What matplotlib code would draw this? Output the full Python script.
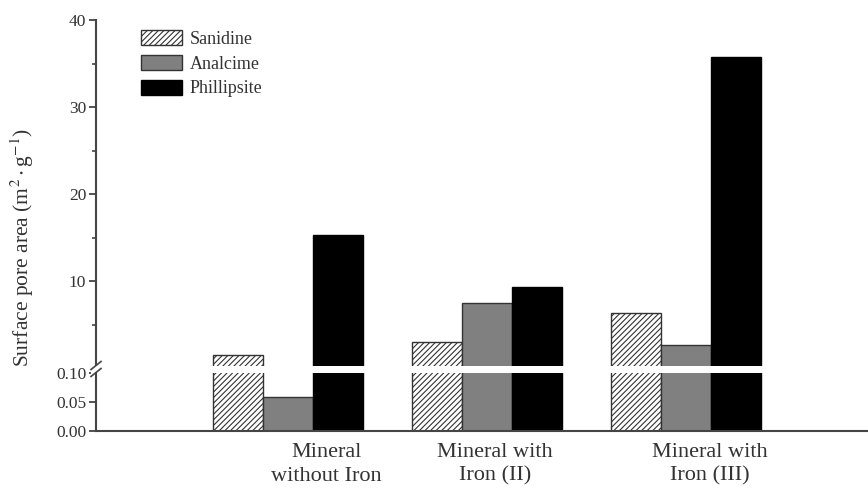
import numpy as np
import matplotlib
matplotlib.use('Agg')
import matplotlib.pyplot as plt
from matplotlib.lines import Line2D
from matplotlib.patches import Polygon
from matplotlib.ticker import MultipleLocator

# Surface pore area per mineral and iron treatment
groups = ['Mineral\nwithout Iron', 'Mineral with\nIron (II)', 'Mineral with\nIron (III)']
sanidine = [1.6, 3.05, 6.4]
analcime = [0.058, 7.55, 2.7]
phillipsite = [15.3, 9.35, 35.7]

plt.rcParams['font.family'] = ['Liberation Serif', 'DejaVu Serif']
plt.rcParams['mathtext.fontset'] = 'stix'
plt.rcParams['hatch.color'] = '#555555'
plt.rcParams['hatch.linewidth'] = 0.8

fig = plt.figure(figsize=(8.68, 4.93), dpi=100)
ax_top = fig.add_axes([0.1106, 0.2576, 0.8894, 0.7018])
ax_low = fig.add_axes([0.1106, 0.1258, 0.8894, 0.1176])

x = np.arange(len(groups)) * 4.0
w = 1.0
series = [
    ('Sanidine', sanidine, dict(facecolor='white', hatch='//////', edgecolor='#333333')),
    ('Analcime', analcime, dict(facecolor='#808080', edgecolor='#333333')),
    ('Phillipsite', phillipsite, dict(facecolor='black', edgecolor='black')),
]

for ax in (ax_top, ax_low):
    for i, (name, vals, style) in enumerate(series):
        ax.bar(x + (i - 1) * w, vals, width=w, linewidth=1.0, label=name, **style)
    ax.set_xlim(-3.86, 11.66)
    for s in ('top', 'right'):
        ax.spines[s].set_visible(False)
    ax.spines['left'].set_linewidth(1.5)
    ax.spines['left'].set_color('#444444')
    ax.tick_params(axis='y', direction='out', length=5, width=1.3, color='#444444',
                   labelsize=12.5, labelcolor='#333333', pad=2)
    ax.tick_params(axis='y', which='minor', direction='out', length=3, width=1.2, color='#444444')

# upper part of the broken axis
ax_top.set_ylim(0.3, 40)
ax_top.set_yticks([10, 20, 30, 40])
ax_top.yaxis.set_minor_locator(MultipleLocator(5))
ax_top.spines['bottom'].set_visible(False)
ax_top.set_xticks([])

# lower part of the broken axis
ax_low.set_ylim(0, 0.10)
ax_low.set_yticks([0.00, 0.05, 0.10])
ax_low.set_yticklabels(['0.00', '0.05', '0.10'])
ax_low.spines['bottom'].set_linewidth(1.5)
ax_low.spines['bottom'].set_color('#444444')
ax_low.set_xticks([])

# category labels under each group
label_x = [x[0] + 0.78, x[1] + 0.16, x[2] + 0.48]
for lx, name in zip(label_x, groups):
    ax_low.text(lx, -0.2, name, transform=ax_low.get_xaxis_transform(), ha='center', va='top',
                fontsize=16, color='#333333', linespacing=1.36)

# axis break marker on the left spine
bx, by = 96 / 868, 1 - 369 / 493
dx, dy = 5 / 868, 4 / 493
gap = 3.5 / 493
fig.patches.append(Polygon([[bx - dx, by - dy - gap], [bx + dx, by + dy - gap],
                            [bx + dx, by + dy + gap], [bx - dx, by - dy + gap]],
                           closed=True, transform=fig.transFigure, facecolor='white',
                           edgecolor='none', zorder=5))
for off in (-gap, gap):
    fig.lines.append(Line2D([bx - dx, bx + dx], [by - dy + off, by + dy + off],
                            transform=fig.transFigure, color='#444444', linewidth=1.2, zorder=6))

ax_top.legend(loc='upper left', bbox_to_anchor=(0.037, 1.017), frameon=False, fontsize=13,
              handlelength=2.3, handleheight=0.9, handletextpad=0.4, labelspacing=0.38,
              labelcolor='#333333')

fig.text(22 / 868, 1 - 247 / 493, 'Surface pore area (m$^{2}\\cdot$g$^{-1}$)', rotation=90,
         ha='center', va='center', fontsize=15.5, color='#333333')

fig.savefig('out.png', dpi=100)
